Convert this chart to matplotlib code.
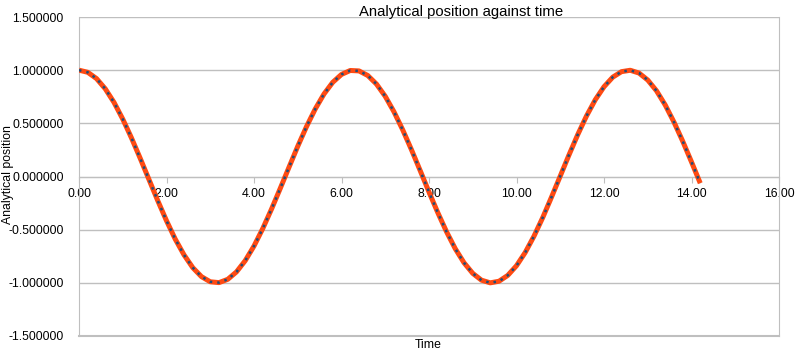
import matplotlib
matplotlib.use("Agg")
import matplotlib.pyplot as plt
from matplotlib.ticker import FormatStrFormatter, MultipleLocator

plt.rcParams['font.family'] = ['Liberation Sans', 'DejaVu Sans']

# time values (step 0.2)
time = [0.0, 0.2, 0.4, 0.6, 0.8, 1.0, 1.2, 1.4, 1.6, 1.8,
        2.0, 2.2, 2.4, 2.6, 2.8, 3.0, 3.2, 3.4, 3.6, 3.8,
        4.0, 4.2, 4.4, 4.6, 4.8, 5.0, 5.2, 5.4, 5.6, 5.8,
        6.0, 6.2, 6.4, 6.6, 6.8, 7.0, 7.2, 7.4, 7.6, 7.8,
        8.0, 8.2, 8.4, 8.6, 8.8, 9.0, 9.2, 9.4, 9.6, 9.8,
        10.0, 10.2, 10.4, 10.6, 10.8, 11.0, 11.2, 11.4, 11.6, 11.8,
        12.0, 12.2, 12.4, 12.6, 12.8, 13.0, 13.2, 13.4, 13.6, 13.8,
        14.0, 14.2]
position = [1.000, 0.980, 0.921, 0.825, 0.697, 0.540, 0.362, 0.170, -0.029, -0.227,
            -0.416, -0.589, -0.737, -0.857, -0.942, -0.990, -0.998, -0.967, -0.897, -0.791,
            -0.654, -0.490, -0.307, -0.112, 0.087, 0.284, 0.469, 0.635, 0.776, 0.886,
            0.960, 0.997, 0.993, 0.950, 0.869, 0.754, 0.608, 0.438, 0.251, 0.054,
            -0.146, -0.339, -0.519, -0.679, -0.811, -0.911, -0.975, -1.000, -0.985, -0.930,
            -0.839, -0.714, -0.561, -0.386, -0.194, 0.004, 0.203, 0.394, 0.569, 0.721,
            0.844, 0.934, 0.986, 0.999, 0.973, 0.907, 0.806, 0.672, 0.511, 0.331,
            0.137, -0.063]

fig = plt.figure(figsize=(8, 3.61), dpi=100)
ax = fig.add_axes([79/800, 1 - 336/361, 700/800, 319/361])

ax.plot(time, position, color='#FF4A12', lw=3.6, solid_capstyle='butt', zorder=3)
ax.plot(time, position, color='#1F4E79', lw=1.8, linestyle=(0, (1, 2)),
        dash_capstyle='butt', zorder=4)

ax.set_xlim(0, 16)
ax.set_ylim(-1.5, 1.5)
ax.xaxis.set_major_locator(MultipleLocator(2))
ax.yaxis.set_major_locator(MultipleLocator(0.5))
ax.xaxis.set_major_formatter(FormatStrFormatter('%.2f'))
ax.yaxis.set_major_formatter(FormatStrFormatter('%.6f'))

grid_c = '#BFBFBF'
ax.yaxis.grid(True, color=grid_c, lw=1)
ax.set_axisbelow(True)

ax.spines['bottom'].set_position(('data', 0))
ax.spines['bottom'].set_color(grid_c)
ax.spines['top'].set_visible(False)
ax.spines['left'].set_color(grid_c)
ax.spines['right'].set_color(grid_c)
ax.axhline(-1.5, color=grid_c, lw=1.5, clip_on=False)

ax.tick_params(axis='x', direction='out', length=4, color=grid_c, labelsize=8.8, pad=4)
ax.tick_params(axis='y', length=0, labelsize=8.8, pad=11)

fig.text(461/800, 1 - 12/361, 'Analytical position against time', ha='center', va='center', fontsize=10.7)
fig.text(8/800, 1 - 175/361, 'Analytical position', ha='center', va='center', rotation=90, fontsize=8.8)
fig.text(428/800, 1 - 345/361, 'Time', ha='center', va='center', fontsize=8.8)

fig.savefig('out.png', dpi=100)
